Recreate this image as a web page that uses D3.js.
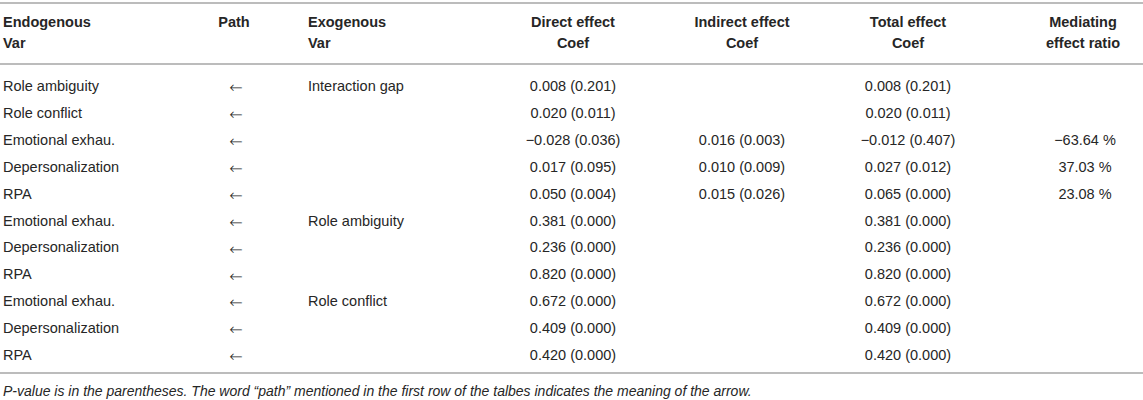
<!DOCTYPE html>
<html><head><meta charset="utf-8">
<script src="https://cdn.jsdelivr.net/npm/d3@7/dist/d3.min.js"></script>
<style>
html,body{margin:0;padding:0;background:#fff;}
svg{display:block;}
text{font-family:"Liberation Sans",Arial,Helvetica,sans-serif;fill:#262626;}
</style></head>
<body>
<svg id="chart" width="1143" height="400"></svg>
<script>
// ---- data ----
const headers = [
  ["Endogenous","Var"],
  ["Path"],
  ["Exogenous","Var"],
  ["Direct effect","Coef"],
  ["Indirect effect","Coef"],
  ["Total effect","Coef"],
  ["Mediating","effect ratio"]
];
const endogenous = ["Role ambiguity","Role conflict","Emotional exhau.","Depersonalization","RPA",
  "Emotional exhau.","Depersonalization","RPA","Emotional exhau.","Depersonalization","RPA"];
const pathSymbol = ["←","←","←","←","←","←","←","←","←","←","←"];
const exogenous = ["Interaction gap","","","","","Role ambiguity","","","Role conflict","",""];
const directEffect = ["0.008 (0.201)","0.020 (0.011)","\u22120.028 (0.036)","0.017 (0.095)","0.050 (0.004)",
  "0.381 (0.000)","0.236 (0.000)","0.820 (0.000)","0.672 (0.000)","0.409 (0.000)","0.420 (0.000)"];
const indirectEffect = ["","","0.016 (0.003)","0.010 (0.009)","0.015 (0.026)","","","","","",""];
const totalEffect = ["0.008 (0.201)","0.020 (0.011)","\u22120.012 (0.407)","0.027 (0.012)","0.065 (0.000)",
  "0.381 (0.000)","0.236 (0.000)","0.820 (0.000)","0.672 (0.000)","0.409 (0.000)","0.420 (0.000)"];
const mediatingRatio = ["","","\u221263.64 %","37.03 %","23.08 %","","","","","",""];
const footnote = "P-value is in the parentheses. The word \u201cpath\u201d mentioned in the first row of the talbes indicates the meaning of the arrow.";

// ---- layout ----
const W = 1143;
const columns = [
  {values: endogenous,     x: 3,    anchor: "start"},
  {values: pathSymbol,     x: 236,  anchor: "middle", font: "DejaVu Sans"},
  {values: exogenous,      x: 308,  anchor: "start"},
  {values: directEffect,   x: 573,  anchor: "middle"},
  {values: indirectEffect, x: 742,  anchor: "middle"},
  {values: totalEffect,    x: 908,  anchor: "middle"},
  {values: mediatingRatio, x: 1085, anchor: "middle"}
];
const headerX = [3, 234, 308, 573, 742, 908, 1083];

const svg = d3.select("#chart");
const rowY = d3.scalePoint().domain(d3.range(endogenous.length)).range([86, 355]);
const headY = d3.scalePoint().domain([0,1]).range([22, 43]);

const fs = 14.5;
// rules
[3, 64, 373].forEach(y => {
  svg.append("line").attr("x1",0).attr("x2",W).attr("y1",y).attr("y2",y)
    .attr("stroke","#a6a6a6").attr("stroke-width",1.5);
});

// headers
headers.forEach((lines, ci) => {
  lines.forEach((t, li) => {
    svg.append("text")
      .attr("x", headerX[ci]).attr("y", headY(li))
      .attr("dy","0.35em")
      .attr("text-anchor", columns[ci].anchor)
      .attr("font-size", fs).attr("font-weight","bold")
      .text(t);
  });
});

// body cells
columns.forEach(col => {
  const g = svg.append("g");
  g.selectAll("text").data(col.values).join("text")
    .attr("x", col.x).attr("y", (d,i) => rowY(i))
    .attr("dy", col.font ? "0.45em" : "0.35em")
    .attr("text-anchor", col.anchor)
    .attr("font-size", col.font ? 16 : fs)
    .style("font-family", col.font ? col.font : null)
    .style("font-weight", col.font ? 300 : null)
    .text(d => d);
});

// footnote
svg.append("text").attr("x",3).attr("y",391).attr("dy","0.35em")
  .attr("font-size", 14).attr("font-style","italic").text(footnote);
</script>
</body></html>
